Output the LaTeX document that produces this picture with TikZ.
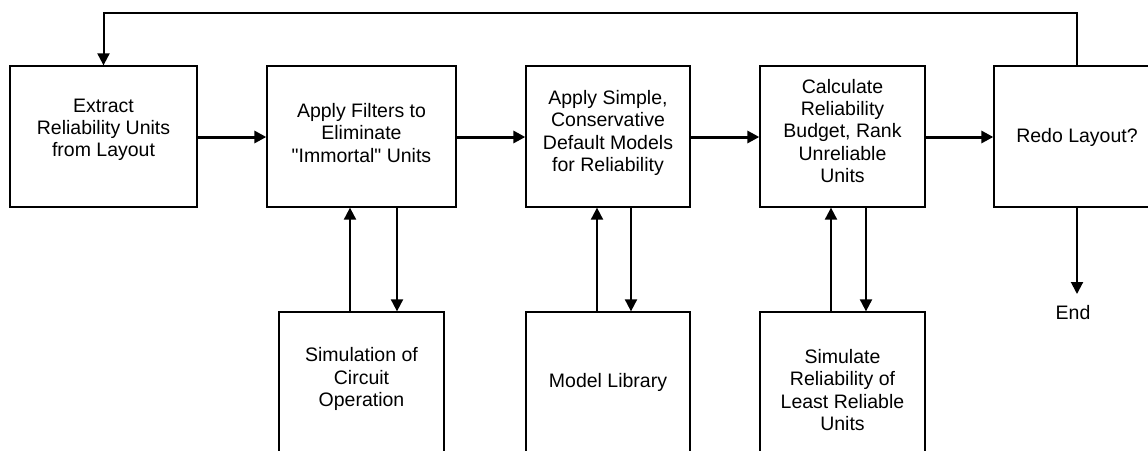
\documentclass[tikz,border=0pt]{standalone}
\usepackage{fontspec}
\setmainfont{Liberation Sans}[Ligatures=TeXOff]
\usetikzlibrary{arrows.meta}
\begin{document}
\begin{tikzpicture}[x=1pt,y=-1pt,
  box/.style={draw, line width=1.3pt, inner sep=0pt},
  txt/.style={inner sep=0pt, align=center, font=\fontsize{19.5}{22.3}\selectfont},
  flow/.style={line width=3pt, -{Triangle[length=12pt,width=12pt]}},
  link/.style={line width=2pt, line join=miter, -{Triangle[length=12pt,width=12pt]}},
]
\useasboundingbox (0,0) rectangle (1148,450);
\clip (0,0) rectangle (1148,450);

% main process boxes
\node[box, minimum width=187pt, minimum height=141pt] (b1) at (103.5,136.5) {};
\node[box, minimum width=189pt, minimum height=141pt] (b2) at (361.5,136.5) {};
\node[box, minimum width=164pt, minimum height=141pt] (b3) at (608,136.5) {};
\node[box, minimum width=165pt, minimum height=141pt] (b4) at (842.5,136.5) {};
\node[box, minimum width=166pt, minimum height=141pt] (b5) at (1077,136.5) {};

\node[txt] (t1) at (103.5,130) {Extract\\Reliability Units\\from Layout};
\node[txt] (t2) at (361.5,133) {Apply Filters to\\Eliminate\\"Immortal" Units};
\node[txt] (t3) at (608,133) {Apply Simple,\\Conservative\\Default Models\\for Reliability};
\node[txt] (t4) at (842.5,131) {Calculate\\Reliability\\Budget, Rank\\Unreliable\\Units};
\node[txt] (t5) at (1077,137) {Redo Layout?};

% supporting boxes
\node[box, minimum width=165pt, minimum height=158pt] (s1) at (361.5,391) {};
\node[box, minimum width=164pt, minimum height=158pt] (s2) at (608,391) {};
\node[box, minimum width=165pt, minimum height=158pt] (s3) at (842.5,391) {};

\node[txt] (u1) at (361.5,379) {Simulation of\\Circuit\\Operation};
\node[txt] (u2) at (608,382) {Model Library};
\node[txt] (u3) at (842.5,390) {Simulate\\Reliability of\\Least Reliable\\Units};

\node[txt, anchor=north, inner ysep=11pt] (end) at (1073,294) {End};

% main flow
\draw[flow] (b1.east |- 0,137) -- (b2.west |- 0,137);
\draw[flow] (b2.east |- 0,137) -- (b3.west |- 0,137);
\draw[flow] (b3.east |- 0,137) -- (b4.west |- 0,137);
\draw[flow] (b4.east |- 0,137) -- (b5.west |- 0,137);

% feedback loop
\coordinate (top) at (0,13);
\draw[link] (b5.north) -- (b5.north |- top) -- (b1.north |- top) -- (b1.north);

% exchanges with supporting boxes
\coordinate (x1u) at (350,0);
\coordinate (x1d) at (397,0);
\coordinate (x2u) at (597,0);
\coordinate (x2d) at (631,0);
\coordinate (x3u) at (831,0);
\coordinate (x3d) at (866,0);
\draw[link] (x1u |- s1.north) -- (x1u |- b2.south);
\draw[link] (x1d |- b2.south) -- (x1d |- s1.north);
\draw[link] (x2u |- s2.north) -- (x2u |- b3.south);
\draw[link] (x2d |- b3.south) -- (x2d |- s2.north);
\draw[link] (x3u |- s3.north) -- (x3u |- b4.south);
\draw[link] (x3d |- b4.south) -- (x3d |- s3.north);

% exit
\draw[link] (b5.south) -- (b5.south |- end.north);
\end{tikzpicture}
\end{document}
